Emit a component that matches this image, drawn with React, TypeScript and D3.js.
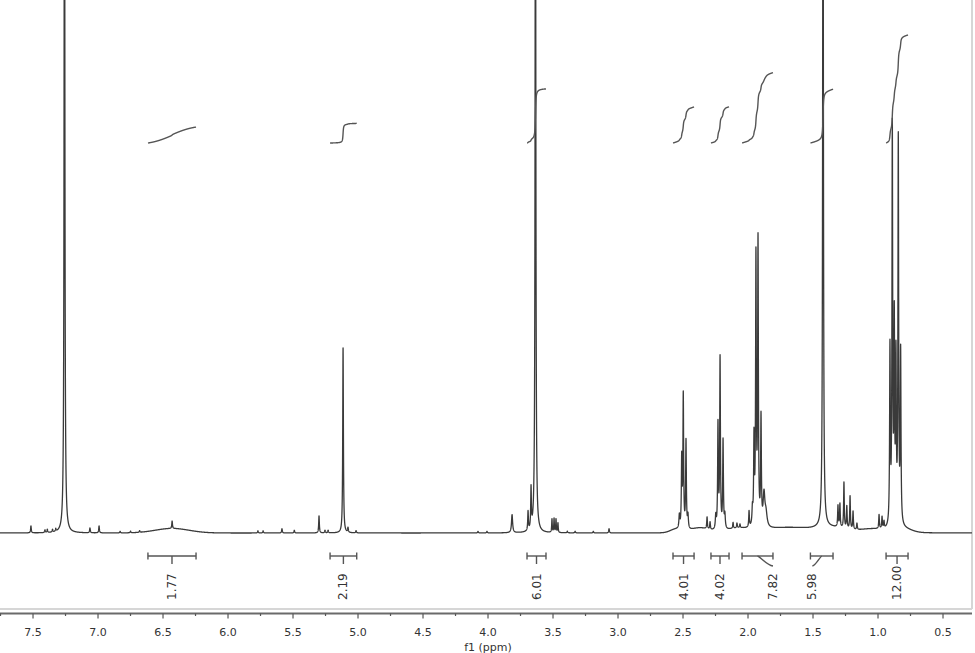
import React from 'react';
import * as d3 from 'd3';

const WIDTH = 975;
const HEIGHT = 653;

// chemical shift axis (ppm), reversed
const ppmStart = 7.754;
const ppmEnd = 0.277;
const majorTicks = [7.5, 7.0, 6.5, 6.0, 5.5, 5.0, 4.5, 4.0, 3.5, 3.0, 2.5, 2.0, 1.5, 1.0, 0.5];
const minorTicks = [7.75, 7.25, 6.75, 6.25, 5.75, 5.25, 4.75, 4.25, 3.75, 3.25, 2.75, 2.25, 1.75, 1.25, 0.75];

// Lorentzian lines: [ppm, height (% of plot height), half width (ppm)]
const singletPeaks: number[][] = [
  [7.258, 160, 0.0033],
  [3.635, 150, 0.0033],
  [1.423, 150, 0.0033],
  [5.115, 34.7, 0.003],
  [5.300, 3.2, 0.003],
  [3.815, 3.4, 0.005],
];
const multipletPeaks: number[][] = [
  // 3.67 shoulder
  [3.692, 3.6, 0.003], [3.669, 7.6, 0.003],
  // 3.48 multiplet
  [3.508, 2.5, 0.0025], [3.492, 2.6, 0.0025], [3.477, 2.5, 0.0025], [3.462, 1.8, 0.0025],
  // 2.50
  [2.528, 2.5, 0.004], [2.510, 13.0, 0.0032], [2.498, 25.0, 0.0032], [2.477, 16.5, 0.0032], [2.462, 2.5, 0.004],
  // 2.22
  [2.248, 2.5, 0.004], [2.231, 19.5, 0.0032], [2.215, 32.0, 0.0032], [2.192, 16.5, 0.0032], [2.178, 2.5, 0.004],
  // 1.92
  [1.966, 3.0, 0.004], [1.954, 16.0, 0.0032], [1.939, 50.0, 0.0032], [1.923, 53.0, 0.0032], [1.900, 20.0, 0.0032],
  [1.877, 6.0, 0.008], [1.862, 2.5, 0.01],
  // 1.28
  [1.308, 4.0, 0.003], [1.293, 4.4, 0.003], [1.262, 8.6, 0.003], [1.240, 4.2, 0.003], [1.215, 6.2, 0.003],
  [1.192, 3.4, 0.003], [1.162, 1.2, 0.003],
  // 0.87 (two triplets)
  [0.908, 33.0, 0.0032], [0.890, 74.0, 0.0032], [0.875, 37.0, 0.0032],
  [0.862, 30.0, 0.0032], [0.844, 72.0, 0.0032], [0.826, 32.0, 0.0032],
];
const minorPeaks: number[][] = [
  [7.516, 1.3, 0.003], [7.408, 0.5, 0.003], [7.390, 0.6, 0.003], [7.350, 0.5, 0.003], [7.325, 0.5, 0.003],
  [7.062, 0.9, 0.003], [6.992, 1.3, 0.003], [6.83, 0.3, 0.003], [6.75, 0.3, 0.003], [6.68, 0.3, 0.003],
  [6.430, 1.4, 0.003],
  [5.770, 0.4, 0.003], [5.730, 0.4, 0.003], [5.585, 0.8, 0.003], [5.490, 0.5, 0.003],
  [5.254, 0.5, 0.003], [5.230, 0.5, 0.003], [5.077, 0.9, 0.003], [5.015, 0.4, 0.003],
  [4.077, 0.3, 0.003], [4.008, 0.3, 0.003], [3.39, 0.3, 0.003], [3.33, 0.3, 0.003], [3.19, 0.3, 0.003],
  [3.069, 0.8, 0.003],
  [2.315, 2.2, 0.003], [2.292, 1.4, 0.003], [2.115, 1.1, 0.003], [2.085, 0.9, 0.003], [2.062, 0.7, 0.003],
  [1.992, 3.0, 0.003],
  [0.992, 2.6, 0.003], [0.969, 2.2, 0.003], [0.954, 1.3, 0.003],
];
// broad Gaussian bands: [ppm, height (%), sigma (ppm)]
const broadBands: number[][] = [
  [6.43, 0.85, 0.13],
  [2.56, 0.6, 0.04],
  [2.37, 0.9, 0.07],
  [2.08, 0.7, 0.08],
  [1.68, 1.0, 0.2],
  [1.35, 0.8, 0.1],
  [1.05, 0.7, 0.1],
  [0.80, 0.6, 0.06],
];

// integrations
const integralFrom = [6.616, 5.215, 3.700, 2.577, 2.285, 2.046, 1.520, 0.938];
const integralTo = [6.246, 5.010, 3.554, 2.415, 2.146, 1.808, 1.346, 0.769];
const integralValues = [1.77, 2.19, 6.01, 4.01, 4.02, 7.82, 5.98, 12.0];
const integralLabelAt = ['mid', 'mid', 'mid', 'mid', 'mid', 'to', 'from', 'mid'];
const integralMax = 12;

const allLorentz = [...singletPeaks, ...multipletPeaks, ...minorPeaks];

function intensity(p: number): number {
  let s = 0;
  for (const [c, h, w] of allLorentz) {
    const d = p - c;
    s += (h * w * w) / (w * w + d * d);
  }
  for (const [c, h, sg] of broadBands) {
    const d = p - c;
    s += h * Math.exp(-(d * d) / (2 * sg * sg));
  }
  return s;
}

function buildSpectrum() {
  const pts: number[] = [];
  const step = 0.0004;
  for (let p = ppmStart; p >= ppmEnd; p -= step) pts.push(p);
  for (const [c] of allLorentz) pts.push(c);
  pts.sort((a, b) => b - a);
  return pts.map((p) => ({ p, v: intensity(p) }));
}

export default function App() {
  const plotRight = 972;
  const frameBottom = 609;
  const axisY = 613.5;
  const baseY = 533;

  const x = d3.scaleLinear().domain([ppmStart, ppmEnd]).range([0, plotRight]);
  const y = d3.scaleLinear().domain([0, 100]).range([baseY, 0]);
  const yInt = d3.scaleLinear().domain([0, integralMax]).range([143, 35]);

  const spectrum = React.useMemo(buildSpectrum, []);
  const line = d3
    .line<{ p: number; v: number }>()
    .x((d) => x(d.p))
    .y((d) => y(d.v));
  const specPath = line(spectrum) || '';

  const integralPaths = integralValues.map((val, i) => {
    const from = integralFrom[i];
    const to = integralTo[i];
    const seg = spectrum.filter((d) => d.p <= from && d.p >= to);
    const cum: { p: number; c: number }[] = [];
    let acc = 0;
    for (let k = 0; k < seg.length; k++) {
      if (k > 0) acc += ((seg[k].v + seg[k - 1].v) / 2) * (seg[k - 1].p - seg[k].p);
      cum.push({ p: seg[k].p, c: acc });
    }
    const total = acc || 1;
    const ln = d3
      .line<{ p: number; c: number }>()
      .x((d) => x(d.p))
      .y((d) => yInt((d.c / total) * val));
    return ln(cum) || '';
  });

  const barY = 556;
  const labelY = 600;
  const font = "'DejaVu Sans', Verdana, sans-serif";

  return (
    <svg
      width={WIDTH}
      height={HEIGHT}
      style={{ position: 'absolute', left: 0, top: 0, display: 'block', background: '#fff' }}
    >
      <defs>
        <clipPath id="plotClip">
          <rect x={0} y={-5} width={plotRight} height={frameBottom + 5} />
        </clipPath>
      </defs>
      {/* frame */}
      <line x1={0} x2={plotRight} y1={frameBottom} y2={frameBottom} stroke="#d6d6d6" strokeWidth={2} />
      <line x1={plotRight} x2={plotRight} y1={0} y2={frameBottom} stroke="#d6d6d6" strokeWidth={2} />

      {/* spectrum */}
      <g clipPath="url(#plotClip)">
        <path d={specPath} fill="none" stroke="#3a3a3a" strokeWidth={1.3} strokeLinejoin="round" />
        {integralPaths.map((d, i) => (
          <path key={i} d={d} fill="none" stroke="#555" strokeWidth={1.4} />
        ))}
      </g>

      {/* integration bars and labels */}
      {integralValues.map((val, i) => {
        const x1 = x(integralFrom[i]);
        const x2 = x(integralTo[i]);
        const xm = (x1 + x2) / 2;
        const mode = integralLabelAt[i];
        const lx = mode === 'to' ? x2 : mode === 'from' ? x1 + 2 : xm;
        return (
          <g key={i} stroke="#555" strokeWidth={1.4} fill="none">
            <line x1={x1} x2={x2} y1={barY} y2={barY} />
            <line x1={x1} x2={x1} y1={barY - 3.5} y2={barY + 3.5} />
            <line x1={x2} x2={x2} y1={barY - 3.5} y2={barY + 3.5} />
            {mode === 'mid' ? (
              <line x1={xm} x2={xm} y1={barY} y2={barY + 8} />
            ) : (
              <path
                d={`M${xm},${barY} C${xm + (lx - xm) * 0.2},${barY + 1} ${lx - (lx - xm) * 0.4},${barY + 9} ${lx},${barY + 10}`}
              />
            )}
            <text
              transform={`translate(${lx},${labelY}) rotate(-90)`}
              textAnchor="start"
              dominantBaseline="central"
              fontFamily={font}
              fontSize={12}
              fill="#333"
              stroke="none"
            >
              {val.toFixed(2)}
            </text>
          </g>
        );
      })}

      {/* axis */}
      <line x1={0} x2={plotRight} y1={axisY} y2={axisY} stroke="#6a6a6a" strokeWidth={2} />
      {majorTicks.map((t) => (
        <g key={t}>
          <line x1={x(t)} x2={x(t)} y1={axisY} y2={axisY + 5} stroke="#555" strokeWidth={1.2} />
          <text
            x={x(t)}
            y={636}
            textAnchor="middle"
            fontFamily={font}
            fontSize={11}
            fill="#333"
          >
            {t.toFixed(1)}
          </text>
        </g>
      ))}
      {minorTicks.map((t) => (
        <line key={t} x1={x(t)} x2={x(t)} y1={axisY} y2={axisY + 2.5} stroke="#555" strokeWidth={1.2} />
      ))}
      <text x={488} y={650.5} textAnchor="middle" fontFamily={font} fontSize={11} fill="#333">
        f1 (ppm)
      </text>
    </svg>
  );
}
